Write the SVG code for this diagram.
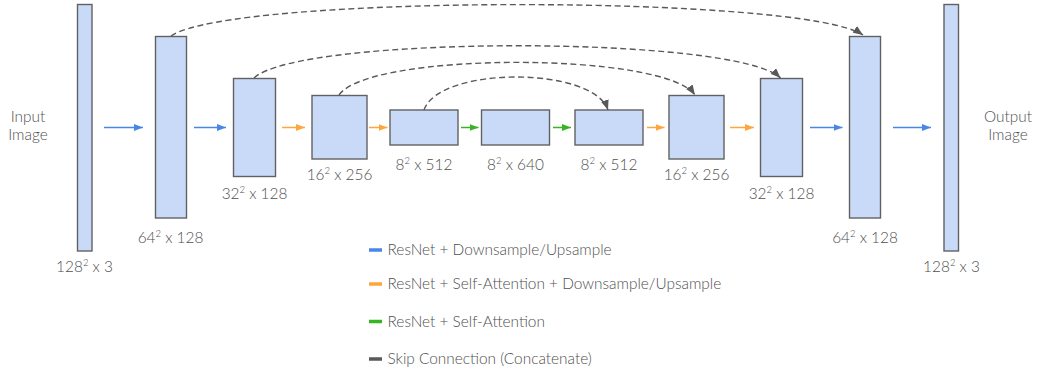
<svg xmlns="http://www.w3.org/2000/svg" width="1037" height="373" viewBox="0 0 1037 373">
<defs>
<style>
.box{fill:#c9daf8;stroke:#616161;stroke-width:1.4}
.t{font-family:Lato,"Open Sans","Liberation Sans",sans-serif;font-weight:300;font-size:15.4px;fill:#4f4f4f}
.sup{font-size:9.5px}
.flow{fill:none;stroke-width:1.5}
.blue{stroke:#4a86e8}
.orange{stroke:#ffa53e}
.green{stroke:#36b423}
.skip{fill:none;stroke:#595959;stroke-width:1.4;stroke-dasharray:6 3.5}
.leg{stroke-width:3.5}
</style>
<marker id="ab" viewBox="0 0 10 10" refX="10" refY="5" markerWidth="9" markerHeight="7" markerUnits="userSpaceOnUse" orient="auto" preserveAspectRatio="none"><path d="M0,0 L10,5 L0,10 z" fill="#4a86e8"/></marker>
<marker id="ao" viewBox="0 0 10 10" refX="10" refY="5" markerWidth="9" markerHeight="7" markerUnits="userSpaceOnUse" orient="auto" preserveAspectRatio="none"><path d="M0,0 L10,5 L0,10 z" fill="#ffa53e"/></marker>
<marker id="ag" viewBox="0 0 10 10" refX="10" refY="5" markerWidth="9" markerHeight="7" markerUnits="userSpaceOnUse" orient="auto" preserveAspectRatio="none"><path d="M0,0 L10,5 L0,10 z" fill="#36b423"/></marker>
<marker id="ak" viewBox="0 0 10 10" refX="10" refY="5" markerWidth="10" markerHeight="8" markerUnits="userSpaceOnUse" orient="auto" preserveAspectRatio="none"><path d="M0,0 L10,5 L0,10 z" fill="#595959"/></marker>
</defs>

<g id="input-label"><text class="t" x="28" y="122" text-anchor="middle">Input</text><text class="t" x="28" y="140" text-anchor="middle">Image</text></g>
<g id="output-label"><text class="t" x="1008" y="122" text-anchor="middle">Output</text><text class="t" x="1008" y="140" text-anchor="middle">Image</text></g>

<g id="n1"><rect class="box" x="77.5" y="4.5" width="14.5" height="246.5"/><text class="t" x="84.5" y="272" text-anchor="middle">128<tspan class="sup" dy="-6">2</tspan><tspan dy="6"> x 3</tspan></text></g>
<g id="n2"><rect class="box" x="155.5" y="36.5" width="31" height="181.5"/><text class="t" x="170.5" y="242.5" text-anchor="middle">64<tspan class="sup" dy="-6">2</tspan><tspan dy="6"> x 128</tspan></text></g>
<g id="n3"><rect class="box" x="233.5" y="78.5" width="42" height="98"/><text class="t" x="254.5" y="199" text-anchor="middle">32<tspan class="sup" dy="-6">2</tspan><tspan dy="6"> x 128</tspan></text></g>
<g id="n4"><rect class="box" x="312" y="95.5" width="55" height="63.5"/><text class="t" x="339.5" y="179.5" text-anchor="middle">16<tspan class="sup" dy="-6">2</tspan><tspan dy="6"> x 256</tspan></text></g>
<g id="n5"><rect class="box" x="390" y="110" width="68" height="35"/><text class="t" x="424" y="170" text-anchor="middle">8<tspan class="sup" dy="-6">2</tspan><tspan dy="6"> x 512</tspan></text></g>
<g id="n6"><rect class="box" x="481.5" y="110" width="68" height="35"/><text class="t" x="515.5" y="170" text-anchor="middle">8<tspan class="sup" dy="-6">2</tspan><tspan dy="6"> x 640</tspan></text></g>
<g id="n7"><rect class="box" x="575" y="110" width="68" height="35"/><text class="t" x="609" y="170" text-anchor="middle">8<tspan class="sup" dy="-6">2</tspan><tspan dy="6"> x 512</tspan></text></g>
<g id="n8"><rect class="box" x="669" y="95.5" width="55" height="63.5"/><text class="t" x="696.5" y="180" text-anchor="middle">16<tspan class="sup" dy="-6">2</tspan><tspan dy="6"> x 256</tspan></text></g>
<g id="n9"><rect class="box" x="760.5" y="78.5" width="42" height="98"/><text class="t" x="781.5" y="199" text-anchor="middle">32<tspan class="sup" dy="-6">2</tspan><tspan dy="6"> x 128</tspan></text></g>
<g id="n10"><rect class="box" x="849.5" y="36.5" width="31" height="181.5"/><text class="t" x="865" y="242.5" text-anchor="middle">64<tspan class="sup" dy="-6">2</tspan><tspan dy="6"> x 128</tspan></text></g>
<g id="n11"><rect class="box" x="944" y="4.5" width="14.5" height="246.5"/><text class="t" x="951.5" y="272" text-anchor="middle">128<tspan class="sup" dy="-6">2</tspan><tspan dy="6"> x 3</tspan></text></g>

<g id="connectors">
<path class="flow blue" d="M104,127.5 H143" marker-end="url(#ab)"/>
<path class="flow blue" d="M194,127.5 H226" marker-end="url(#ab)"/>
<path class="flow orange" d="M282,127.5 H305" marker-end="url(#ao)"/>
<path class="flow orange" d="M369,127.5 H387.5" marker-end="url(#ao)"/>
<path class="flow green" d="M461,127.5 H478.5" marker-end="url(#ag)"/>
<path class="flow green" d="M553,127.5 H571" marker-end="url(#ag)"/>
<path class="flow orange" d="M647,127.5 H664.5" marker-end="url(#ao)"/>
<path class="flow orange" d="M730,127.5 H754" marker-end="url(#ao)"/>
<path class="flow blue" d="M810,127.5 H842.5" marker-end="url(#ab)"/>
<path class="flow blue" d="M893,127.5 H931" marker-end="url(#ab)"/>

<path class="skip" d="M171,36 C231,-5.7 803,-5.7 863,35" marker-end="url(#ak)"/>
<path class="skip" d="M254,78 C299,35 736,35 780.5,78" marker-end="url(#ak)"/>
<path class="skip" d="M339,95 C369,51.5 665,51.5 695,95" marker-end="url(#ak)"/>
<path class="skip" d="M424,110 C439,66 593,66 608,110" marker-end="url(#ak)"/>
</g>

<g id="legend">
<line class="leg blue" x1="369" y1="250" x2="382" y2="250"/>
<text class="t" x="387.5" y="255">ResNet + Downsample/Upsample</text>
<line class="leg orange" x1="369" y1="284" x2="382" y2="284"/>
<text class="t" x="387.5" y="289">ResNet + Self-Attention + Downsample/Upsample</text>
<line class="leg green" x1="369" y1="321.5" x2="382" y2="321.5"/>
<text class="t" x="387.5" y="326.5">ResNet + Self-Attention</text>
<line class="leg" stroke="#595959" x1="369" y1="359" x2="382" y2="359"/>
<text class="t" x="387.5" y="364">Skip Connection (Concatenate)</text>
</g>
</svg>
